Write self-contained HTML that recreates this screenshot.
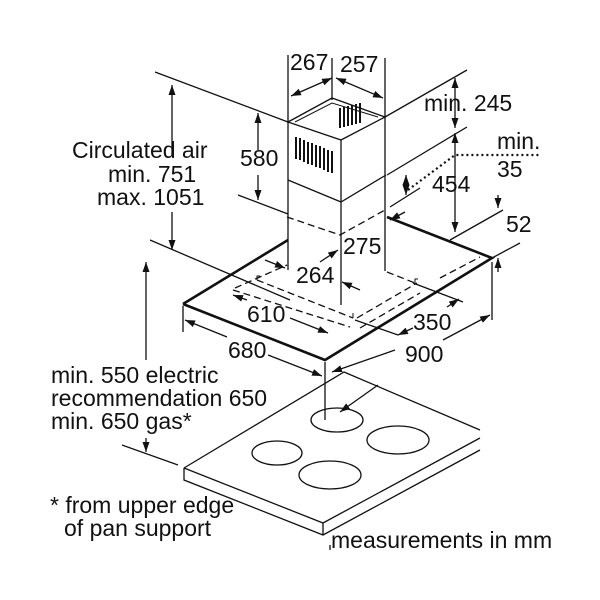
<!DOCTYPE html>
<html><head><style>
html,body{margin:0;padding:0;background:#fff;}
svg{display:block;}
text{font-family:"Liberation Sans",Arial,sans-serif;font-size:23px;fill:#111;}
</style></head><body>
<svg width="600" height="600" viewBox="0 0 600 600" xmlns="http://www.w3.org/2000/svg">
<defs>
<marker id="a" viewBox="0 0 10 10" refX="10" refY="5" markerWidth="10" markerHeight="10" orient="auto-start-reverse" markerUnits="userSpaceOnUse"><path d="M0,1.5 L10,5 L0,8.5 z" fill="#111"/></marker>
</defs>
<g stroke="#111" stroke-width="1.3" fill="none">
<path d="M184,468 L344,372 L480,430 M184,468 L323,523 L480,438 M184,468 L184,480 L323,535 L480,450 M323,523 L323,535"/>
<ellipse cx="337" cy="420" rx="26" ry="12"/>
<ellipse cx="398" cy="440" rx="31" ry="14"/>
<ellipse cx="277" cy="453" rx="25" ry="12"/>
<ellipse cx="330" cy="475" rx="31" ry="14"/>
<path d="M183,304 L288,240 M387,217 L492,258 L325,360 L183,304" stroke-width="2.6"/>
<path d="M288,122 L332,98 L385,117 L341,140 Z"/>
<path d="M288,122 L288,270 M341,140 L341,305 M385,117 L385,271 M288,180 L341,202 L386,175"/>
<path d="M295,122 L332,103 L378,117" stroke-width="1"/>
<g stroke-width="2"><path d="M296,137 v22 M300,138 v22 M304,140 v22 M308,142 v22 M312,143 v22 M316,145 v22 M320,146 v22 M324,148 v22 M328,150 v22 M332,151 v22"/>
<path d="M340,108 v20 M344,107 v20 M348,106 v20 M352,105 v20 M356,104 v20 M360,103 v20"/></g>
<g stroke-dasharray="7,4">
<path d="M287,217 L340,235 L385,210"/>
<path d="M257,280 L353,318 M233,290 L350,327 M235,288 L287,265"/>
<path d="M357,318 L417,283 M360,328 L420,293 M440,278 L480,257 M387,272 L415,283"/>
</g>
<path d="M257,280 v-4 h3 M353,318 v-5 M415,283 v-4 h3" stroke-width="1"/>
<path d="M413,283 L463,302 M355,320 L398,335"/>
<path d="M408,190 L455,155 L540,155" stroke-dasharray="2,3" stroke-width="2.2"/>
<path d="M155,72 L288,122 M238,195 L288,214 M150,240 L290,300 M122,445 L178,465"/>
<path d="M385,117 L467,70 M387,175 L467,127 M390,207 L420,188 M450,240 L503,210 M492,258 L520,243"/>
<path d="M288,55 V122 M332,58 V100 M385,58 V117"/>
<path d="M183,306 V332 M325,362 V420 M492,262 V320 M330,545 V550"/>
<path d="M172,85 V155" marker-start="url(#a)"/>
<path d="M172,212 V250" marker-end="url(#a)"/>
<path d="M258,113 V150" marker-start="url(#a)"/>
<path d="M258,175 V200" marker-end="url(#a)"/>
<path d="M146,262 V360" marker-start="url(#a)"/>
<path d="M146,438 V452" marker-end="url(#a)"/>
<path d="M291,96 L332,78" marker-start="url(#a)" marker-end="url(#a)"/>
<path d="M336,78 L383,98" marker-start="url(#a)" marker-end="url(#a)"/>
<path d="M455,78 V128" marker-start="url(#a)" marker-end="url(#a)"/>
<path d="M455,133 V232" marker-start="url(#a)" marker-end="url(#a)"/>
<path d="M406,175 V195" marker-start="url(#a)" marker-end="url(#a)"/>
<path d="M498,195 V208" marker-end="url(#a)"/>
<path d="M498,272 V258" marker-end="url(#a)"/>
<path d="M185,320 L227,337" marker-start="url(#a)"/>
<path d="M268,355 L322,376" marker-end="url(#a)"/>
<path d="M332,372 L395,350" marker-start="url(#a)"/>
<path d="M443,340 L490,315" marker-end="url(#a)"/>
<path d="M233,295 L247,300" marker-start="url(#a)"/>
<path d="M290,318 L328,333" marker-end="url(#a)"/>
<path d="M398,335 L413,328" marker-start="url(#a)"/>
<path d="M447,307 L459,299" marker-end="url(#a)"/>
<path d="M265,260 L285,268" marker-end="url(#a)"/>
<path d="M360,290 L342,282" marker-end="url(#a)"/>
<path d="M320,262 L338,250" marker-end="url(#a)"/>
<path d="M405,212 L390,220" marker-end="url(#a)"/>
<path d="M378,385 L340,412" marker-end="url(#a)"/>
</g>
<text x="72" y="158">Circulated air</text>
<text x="108" y="182">min. 751</text>
<text x="97" y="205">max. 1051</text>
<text x="240" y="166">580</text>
<text x="290" y="70">267</text>
<text x="340" y="72">257</text>
<text x="424" y="111">min. 245</text>
<text x="497" y="149">min.</text>
<text x="497" y="177">35</text>
<text x="432" y="192">454</text>
<text x="506" y="232">52</text>
<text x="343" y="254">275</text>
<text x="296" y="283">264</text>
<text x="247" y="322">610</text>
<text x="413" y="330">350</text>
<text x="228" y="358">680</text>
<text x="405" y="362">900</text>
<text x="51" y="383">min. 550 electric</text>
<text x="51" y="406">recommendation 650</text>
<text x="51" y="429">min. 650 gas*</text>
<text x="50" y="513">* from upper edge</text>
<text x="64" y="536">of pan support</text>
<text x="331" y="548">measurements in mm</text>
</svg>
</body></html>
